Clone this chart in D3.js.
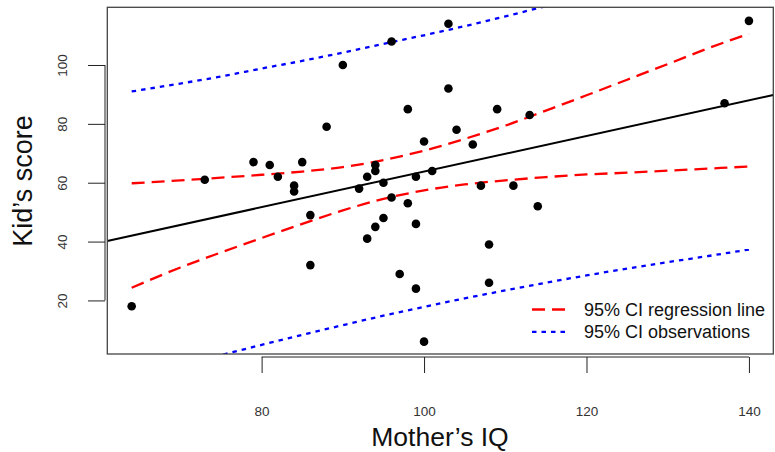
<!DOCTYPE html>
<html>
<head>
<meta charset="utf-8">
<script src="https://cdn.jsdelivr.net/npm/d3@7"></script>
<style>
  body { margin: 0; background: #fff; }
  svg { display: block; font-family: "Liberation Sans", Arial, sans-serif; }
</style>
</head>
<body>
<svg id="chart" width="775" height="452"></svg>
<script>
// observed points
const momIQ = [64, 73, 79, 81, 82, 84, 84, 85, 86, 86, 88, 90, 92, 93, 93, 94, 94, 94, 95, 95, 96, 96,
  97, 98, 98, 99, 99, 99, 100, 100, 101, 103, 103, 104, 106, 107, 108, 108, 109, 111, 113, 114, 137, 140];
const kidScore = [18, 61, 67, 66, 62, 59, 57, 67, 49, 32, 79, 100, 58, 62, 41, 66, 64, 45, 60, 48, 108, 55,
  29, 85, 53, 62, 46, 24, 74, 6, 64, 114, 92, 78, 73, 59, 39, 26, 85, 59, 83, 52, 87, 115];

// fitted line (ends at the plot edges)
const fitIQ = [61, 143];
const fitScore = [40.2, 89.8];

// confidence bands
const bandIQ = [64, 70, 75, 80, 85, 90, 95, 100, 105, 110, 115, 120, 125, 130, 135, 140];
const ciLineUpper = [59.8, 60.8, 61.7, 62.7, 63.8, 65.3, 67.7, 70.9, 74.9, 79.4, 84.5, 89.7, 95.0, 100.3, 105.7, 110.6];
const ciLineLower = [24.3, 31.2, 36.3, 41.2, 46.0, 50.6, 54.5, 57.4, 59.4, 60.8, 61.9, 62.8, 63.4, 64.1, 64.8, 65.5];
const ciObsUpper = [91.0, 93.7, 96.1, 98.8, 101.4, 104.2, 107.2, 110.1, 113.2, 116.5, 120.0, 123.5, 127.1, 130.8, 134.6, 138.5];
const ciObsLower = [-7.0, -2.3, 1.4, 4.9, 8.3, 11.6, 14.8, 17.8, 20.7, 23.4, 26.0, 28.5, 30.8, 33.0, 35.1, 37.3];

const xTicks = [80, 100, 120, 140];
const yTicks = [20, 40, 60, 80, 100];
const legendLabels = ['95% CI regression line', '95% CI observations'];

const box = { left: 107.3, right: 773.3, top: 7.3, bottom: 354 };

const svg = d3.select('#chart');

const x = d3.scaleLinear()
  .domain([61, 143])
  .range([box.left, box.right]);

const y = d3.scaleLinear()
  .domain([1.8, 119.6])
  .range([box.bottom, box.top]);

svg.append('defs').append('clipPath')
  .attr('id', 'plotClip')
  .append('rect')
  .attr('x', box.left)
  .attr('y', box.top)
  .attr('width', box.right - box.left)
  .attr('height', box.bottom - box.top);

const plot = svg.append('g')
  .attr('clip-path', 'url(#plotClip)');

const line = d3.line()
  .curve(d3.curveMonotoneX)
  .x(d => x(d[0]))
  .y(d => y(d[1]));

const bands = [
  { values: ciObsUpper, color: '#0000ff', dash: '4.5,5' },
  { values: ciObsLower, color: '#0000ff', dash: '4.5,5' },
  { values: ciLineUpper, color: '#ff0000', dash: '13,7' },
  { values: ciLineLower, color: '#ff0000', dash: '13,7' },
];

plot.selectAll('.band')
  .data(bands)
  .enter()
  .append('path')
  .attr('class', 'band')
  .attr('fill', 'none')
  .attr('stroke', d => d.color)
  .attr('stroke-width', 2.3)
  .attr('stroke-dasharray', d => d.dash)
  .attr('d', d => line(bandIQ.map((v, i) => [v, d.values[i]])));

plot.append('path')
  .attr('fill', 'none')
  .attr('stroke', '#000')
  .attr('stroke-width', 2)
  .attr('d', d3.line().x(d => x(d[0])).y(d => y(d[1]))(fitIQ.map((v, i) => [v, fitScore[i]])));

plot.selectAll('.pt')
  .data(momIQ.map((v, i) => [v, kidScore[i]]))
  .enter()
  .append('circle')
  .attr('class', 'pt')
  .attr('cx', d => x(d[0]))
  .attr('cy', d => y(d[1]))
  .attr('r', 4.3)
  .attr('fill', '#000');

// frame
svg.append('rect')
  .attr('x', box.left)
  .attr('y', box.top)
  .attr('width', box.right - box.left)
  .attr('height', box.bottom - box.top)
  .attr('fill', 'none')
  .attr('stroke', '#444')
  .attr('stroke-width', 1.3);

// x axis, detached below the frame
const xAxis = svg.append('g')
  .attr('transform', 'translate(0,357)')
  .call(d3.axisBottom(x).tickValues(xTicks).tickSize(16).tickSizeOuter(0).tickPadding(33));
xAxis.select('.domain')
  .attr('d', `M${x(xTicks[0])},0H${x(xTicks[xTicks.length - 1])}`);
xAxis.selectAll('line').attr('stroke', '#222');
xAxis.select('.domain').attr('stroke', '#222');
xAxis.selectAll('text')
  .attr('font-family', '"Liberation Sans", Arial, sans-serif')
  .attr('font-size', 13.5)
  .attr('fill', '#333');

// y axis, detached left of the frame
const yAxis = svg.append('g')
  .attr('transform', 'translate(105,0)')
  .call(d3.axisLeft(y).tickValues(yTicks).tickSize(17).tickSizeOuter(0));
yAxis.select('.domain')
  .attr('d', `M0,${y(yTicks[0])}V${y(yTicks[yTicks.length - 1])}`)
  .attr('stroke', '#222');
yAxis.selectAll('line').attr('stroke', '#222');
yAxis.selectAll('text')
  .attr('font-family', '"Liberation Sans", Arial, sans-serif')
  .attr('font-size', 13.5)
  .attr('fill', '#333')
  .attr('x', null)
  .attr('dy', null)
  .attr('text-anchor', 'middle')
  .attr('transform', 'translate(-38,0) rotate(-90)');

// axis titles
svg.append('text')
  .attr('x', 440)
  .attr('y', 446)
  .attr('text-anchor', 'middle')
  .attr('font-size', 26.5)
  .attr('fill', '#111')
  .text('Mother\u2019s IQ');

svg.append('text')
  .attr('transform', 'translate(32,181) rotate(-90)')
  .attr('text-anchor', 'middle')
  .attr('font-size', 27)
  .attr('fill', '#111')
  .text('Kid\u2019s score');

// legend
const legend = svg.append('g')
  .attr('transform', 'translate(532,309.5)');

const legendItems = legend.selectAll('.item')
  .data(legendLabels)
  .enter()
  .append('g')
  .attr('class', 'item')
  .attr('transform', (d, i) => `translate(0,${i * 22.3})`);

legendItems.append('line')
  .attr('x1', 0)
  .attr('x2', 35)
  .attr('stroke', (d, i) => bands[i === 0 ? 2 : 0].color)
  .attr('stroke-width', 2.3)
  .attr('stroke-dasharray', (d, i) => bands[i === 0 ? 2 : 0].dash);

legendItems.append('text')
  .attr('x', 52)
  .attr('y', 6.5)
  .attr('font-size', 18)
  .attr('fill', '#111')
  .text(d => d);
</script>
</body>
</html>
